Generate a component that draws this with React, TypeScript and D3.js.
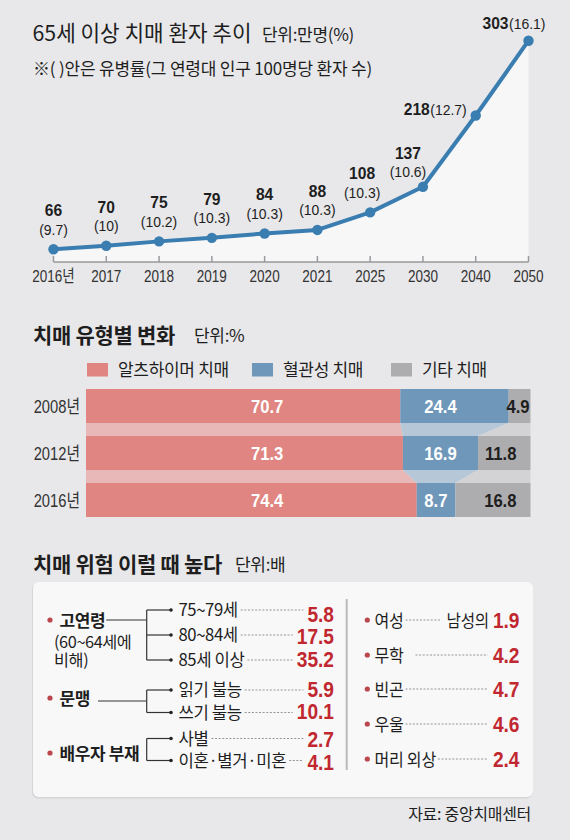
import React, { useEffect, useRef } from 'react';
import * as d3 from 'd3';

// ---------- data ----------
const years = ['2016년', '2017', '2018', '2019', '2020', '2021', '2025', '2030', '2040', '2050'];
const patients = [66, 70, 75, 79, 84, 88, 108, 137, 218, 303];
const prevalence = ['9.7', '10', '10.2', '10.3', '10.3', '10.3', '10.3', '10.6', '12.7', '16.1'];

const typeYears = ['2008년', '2012년', '2016년'];
const typeNames = ['알츠하이머 치매', '혈관성 치매', '기타 치매'];
const alzheimer = [70.7, 71.3, 74.4];
const vascular = [24.4, 16.9, 8.7];
const otherType = [4.9, 11.8, 16.8];

const riskGroups = ['고연령', '문맹', '배우자 부재'];
const riskGroupNote = ['(60~64세에', '비해)'];
const riskItems = [
  ['75~79세', '80~84세', '85세 이상'],
  ['읽기 불능', '쓰기 불능'],
  ['사별', '이혼·별거·미혼'],
];
const riskValues = [
  [5.8, 17.5, 35.2],
  [5.9, 10.1],
  [2.7, 4.1],
];
const riskRight = ['여성', '무학', '빈곤', '우울', '머리 외상'];
const riskRightValues = [1.9, 4.2, 4.7, 4.6, 2.4];
const riskRightPrefix = ['남성의', '', '', '', ''];

const titles = ['65세 이상 치매 환자 추이', '치매 유형별 변화', '치매 위험 이럴 때 높다'];
const units = ['단위:만명(%)', '단위:%', '단위:배'];
const note = '※( )안은 유병률(그 연령대 인구 100명당 환자 수)';
const source = '자료: 중앙치매센터';

// ---------- style ----------
const KR = "'Noto Sans CJK KR', 'Noto Sans', sans-serif";
const NUM = "'Liberation Sans', Arial, 'Noto Sans CJK KR', sans-serif";
const BG = '#e8e8ea';
const INK = '#1e1e1e';
const LINE = '#3a7db0';
const RED = '#c1272f';
const C_ALZ = '#e08581';
const C_VAS = '#6f97b9';
const C_OTH = '#adadb0';
const L_ALZ = '#e7b8b7';
const L_VAS = '#b6c8d8';
const L_OTH = '#d3d3d6';

type TO = {
  x: number; y: number; text: string; size: number; weight?: number; fill?: string;
  family?: string; anchor?: string; sx?: number; ls?: number;
};

export default function App() {
  const ref = useRef<SVGSVGElement | null>(null);

  useEffect(() => {
    const svg = d3.select(ref.current);
    svg.selectAll('*').remove();

    const T = (parent: any, o: TO) => {
      const sx = o.sx ?? 1;
      const t = parent.append('text')
        .attr('transform', `translate(${o.x},${o.y}) scale(${sx},1)`)
        .attr('text-anchor', o.anchor ?? 'start')
        .attr('font-family', o.family ?? KR)
        .attr('font-size', o.size)
        .attr('font-weight', o.weight ?? 400)
        .attr('fill', o.fill ?? INK)
        .attr('letter-spacing', o.ls ?? 0)
        .text(o.text);
      const w = (t.node() as SVGTextElement).getComputedTextLength() * sx;
      return { t, w };
    };

    svg.append('rect').attr('width', 570).attr('height', 840).attr('fill', BG);

    // ===== Section 1: line chart =====
    const s1 = svg.append('g');
    T(s1, { x: 32.5, y: 40.5, text: titles[0], size: 21.3, weight: 400 });
    T(s1, { x: 262, y: 40.5, text: units[0], size: 17, ls: -0.3 });
    T(s1, { x: 33, y: 74.5, text: note, size: 17, ls: -0.2 });

    const x = d3.scalePoint<string>().domain(years).range([53.5, 528.5]);
    const y = d3.scaleLinear().domain([66, 303]).range([249.3, 40.7]);
    const baseY = 262;
    const pts = years.map((yr, i) => ({ yr, v: patients[i], p: prevalence[i] }));

    const area = d3.area<any>().x((d) => x(d.yr)!).y0(baseY).y1((d) => y(d.v));
    s1.append('path').datum(pts).attr('d', area).attr('fill', '#f7f7f8');

    // axis
    s1.append('line').attr('x1', x(years[0])!).attr('x2', x(years[years.length - 1])!)
      .attr('y1', baseY).attr('y2', baseY).attr('stroke', '#9a9a9c').attr('stroke-width', 1.5);
    s1.selectAll('line.tick').data(years).join('line').attr('class', 'tick')
      .attr('x1', (d) => x(d)!).attr('x2', (d) => x(d)!).attr('y1', baseY).attr('y2', baseY - 6)
      .attr('stroke', '#9a9a9c').attr('stroke-width', 1.5);
    years.forEach((d) => {
      T(s1, { x: x(d)!, y: 282, text: d, size: 16.5, family: NUM, anchor: 'middle', sx: 0.82, fill: '#333' });
    });

    const line = d3.line<any>().x((d) => x(d.yr)!).y((d) => y(d.v));
    s1.append('path').datum(pts).attr('d', line).attr('fill', 'none').attr('stroke', LINE)
      .attr('stroke-width', 4).attr('stroke-linejoin', 'round');
    s1.selectAll('circle.pt').data(pts).join('circle').attr('class', 'pt')
      .attr('cx', (d) => x(d.yr)!).attr('cy', (d) => y(d.v)).attr('r', 5.2).attr('fill', LINE);

    // value labels
    pts.forEach((d, i) => {
      const px = x(d.yr)!;
      const py = y(d.v);
      if (i >= 8) {
        const endX = i === 8 ? px - 9 : px + 17;
        const by = i === 8 ? py - 0.5 : py - 12;
        const pr = T(s1, { x: endX, y: by, text: `(${d.p})`, size: 15.5, family: NUM, anchor: 'end', sx: 0.9 });
        T(s1, { x: endX - pr.w - 0.5, y: by, text: String(d.v), size: 17, weight: 700, family: NUM, anchor: 'end', sx: 0.92 });
      } else {
        const dx = i === 7 ? -15 : i === 6 ? -8 : 0;
        const dy = i === 7 ? 5 : 0;
        T(s1, { x: px + dx, y: py - 33 + dy, text: String(d.v), size: 17, weight: 700, family: NUM, anchor: 'middle', sx: 0.92 });
        T(s1, { x: px + dx, y: py - 14.5 + dy, text: `(${d.p})`, size: 15.5, family: NUM, anchor: 'middle', sx: 0.9 });
      }
    });

    // ===== Section 2: stacked bars =====
    const s2 = svg.append('g');
    T(s2, { x: 33, y: 342.5, text: titles[1], size: 21, weight: 700, ls: -0.3 });
    T(s2, { x: 194, y: 342, text: units[1], size: 17, ls: -0.3 });

    const colors = [C_ALZ, C_VAS, C_OTH];
    const lightColors = [L_ALZ, L_VAS, L_OTH];
    const legendX = [87, 252, 391];
    typeNames.forEach((n, i) => {
      s2.append('rect').attr('x', legendX[i]).attr('y', 363).attr('width', 21).attr('height', 13.5)
        .attr('fill', colors[i]);
      T(s2, { x: legendX[i] + 31, y: 376, text: n, size: 17, ls: -0.3 });
    });

    const rows = typeYears.map((yr, i) => ({ yr, vals: [alzheimer[i], vascular[i], otherType[i]] }));
    const bx = d3.scaleLinear().domain([0, 100]).range([86, 530.5]);
    const by = d3.scaleBand<string>().domain(typeYears).range([389, 517]).paddingInner(13 / 47).paddingOuter(0);
    const bh = by.bandwidth();

    const stacked = rows.map((r) => {
      let acc = 0;
      return r.vals.map((v) => {
        const s = acc;
        acc += v;
        return [s, acc];
      });
    });
    stacked.forEach((segs) => { segs[2][1] = 100; });

    // connectors between bars
    for (let i = 0; i < rows.length - 1; i++) {
      const yTop = by(typeYears[i])! + bh;
      const yBot = by(typeYears[i + 1])!;
      for (let k = 0; k < 3; k++) {
        const a = stacked[i][k];
        const b = stacked[i + 1][k];
        const poly = [
          [bx(a[0]), yTop], [bx(a[1]), yTop], [bx(b[1]), yBot], [bx(b[0]), yBot],
        ];
        s2.append('path').attr('d', 'M' + poly.map((p) => p.join(',')).join('L') + 'Z')
          .attr('fill', lightColors[k]);
      }
    }

    rows.forEach((r, i) => {
      const yy = by(r.yr)!;
      T(s2, { x: 80, y: yy + bh / 2 + 6.5, text: r.yr, size: 18, family: NUM, anchor: 'end', sx: 0.82, fill: '#333' });
      stacked[i].forEach((seg, k) => {
        s2.append('rect').attr('x', bx(seg[0])).attr('y', yy).attr('width', bx(seg[1]) - bx(seg[0]))
          .attr('height', bh).attr('fill', colors[k]);
      });
      const ty = yy + bh / 2 + 6.5;
      const base = { y: ty, size: 18.5, weight: 700, family: NUM, sx: 0.9 };
      T(s2, { ...base, x: bx(0) + 165, text: String(r.vals[0]), fill: '#fff' });
      T(s2, { ...base, x: bx(76.1), text: String(r.vals[1]), fill: '#fff' });
      const narrow = r.vals[2] < 6;
      T(s2, { ...base, x: narrow ? bx(100) - 1 : bx(100) - 14, text: String(r.vals[2]), anchor: 'end', fill: INK });
    });

    // ===== Section 3: risk box =====
    const s3 = svg.append('g');
    T(s3, { x: 33, y: 571.5, text: titles[2], size: 21, weight: 700, ls: -0.3 });
    T(s3, { x: 235, y: 570.5, text: units[2], size: 17, ls: -0.3 });

    s3.append('rect').attr('x', 32).attr('y', 583).attr('width', 500.5).attr('height', 215.5).attr('rx', 6)
      .attr('fill', '#d6d6d8');
    s3.append('rect').attr('x', 33).attr('y', 582).attr('width', 500).attr('height', 215).attr('rx', 6)
      .attr('fill', '#f8f8f9');

    s3.append('line').attr('x1', 346.7).attr('x2', 346.7).attr('y1', 599).attr('y2', 770)
      .attr('stroke', '#b9b9bb').attr('stroke-width', 2);

    const dotted = (x1: number, x2: number, yy: number) => {
      if (x2 - x1 < 2) return;
      s3.append('line').attr('x1', x1).attr('x2', x2).attr('y1', yy).attr('y2', yy)
        .attr('stroke', '#8a8a8c').attr('stroke-width', 0.9).attr('stroke-dasharray', '2,1.6');
    };

    const groupY = [620, 698, 753];
    const rowYs = [[610, 635, 660], [690, 712.5], [738.5, 760.5]];
    const valY0 = [621.7, 696.7, 747.3];
    const valStep = 22.6;
    const joinY = [620, 701, null];
    const brX = 146.7;
    const valRight = 334;

    riskGroups.forEach((g, gi) => {
      s3.append('circle').attr('cx', 50).attr('cy', groupY[gi]).attr('r', 2.6).attr('fill', '#b9474b');
      const gt = T(s3, { x: 59.5, y: groupY[gi] + 6.5, text: g, size: 17, weight: 700, ls: -0.4 });
      if (gi === 0) {
        riskGroupNote.forEach((n, ni) => {
          T(s3, { x: 54, y: 648 + ni * 18, text: n, size: 16.3, ls: -0.4 });
        });
      }
      const gEnd = 59.5 + gt.w;
      const jy = joinY[gi];
      if (jy !== null) {
        s3.append('line').attr('x1', gEnd + (gi === 1 ? 8 : 1)).attr('x2', brX).attr('y1', jy).attr('y2', jy)
          .attr('stroke', '#333').attr('stroke-width', 1.2);
      }
      const ys = rowYs[gi];
      s3.append('line').attr('x1', brX).attr('x2', brX).attr('y1', ys[0]).attr('y2', ys[ys.length - 1])
        .attr('stroke', '#333').attr('stroke-width', 1.2);
      riskItems[gi].forEach((it, ii) => {
        const ry = ys[ii];
        s3.append('line').attr('x1', brX).attr('x2', 170).attr('y1', ry).attr('y2', ry)
          .attr('stroke', '#333').attr('stroke-width', 1.2);
        s3.append('circle').attr('cx', 171).attr('cy', ry).attr('r', 1.8).attr('fill', '#222');
        const lt = T(s3, { x: 178.5, y: ry + 6, text: it, size: 16.7, ls: -0.4 });
        const lEnd = 178.5 + lt.w;
        const vt = T(s3, {
          x: valRight, y: valY0[gi] + ii * valStep, text: String(riskValues[gi][ii]), size: 22.5,
          weight: 700, family: NUM, anchor: 'end', sx: 0.85, fill: RED,
        });
        dotted(lEnd + 3, valRight - vt.w - 4, ry);
      });
    });

    const rightYs = [620, 655, 689, 724, 759];
    const rightValY = rightYs.map((v) => v + 7.5);
    const rRight = 519.5;
    riskRight.forEach((r, i) => {
      const ry = rightYs[i];
      s3.append('circle').attr('cx', 367.3).attr('cy', ry).attr('r', 2.6).attr('fill', '#b9474b');
      const lt = T(s3, { x: 374.5, y: ry + 7, text: r, size: 17.5, sx: 0.92, ls: -0.3 });
      const lEnd = 374.5 + lt.w;
      const vt = T(s3, {
        x: rRight, y: rightValY[i], text: String(riskRightValues[i]), size: 22, weight: 700,
        family: NUM, anchor: 'end', sx: 0.87, fill: RED,
      });
      let end = rRight - vt.w - 5;
      if (riskRightPrefix[i]) {
        const pt = T(s3, { x: end + 1, y: ry + 7, text: riskRightPrefix[i], size: 17, anchor: 'end', sx: 0.92, ls: -0.3 });
        end = end + 1 - pt.w - 5;
      }
      dotted(lEnd + (i === 1 ? 12 : 2), end, ry);
    });

    T(svg, { x: 531, y: 820, text: source, size: 16, anchor: 'end', ls: -0.3 });
  }, []);

  return (
    <svg ref={ref} width={570} height={840}
      style={{ position: 'absolute', left: 0, top: 0, display: 'block' }} />
  );
}
